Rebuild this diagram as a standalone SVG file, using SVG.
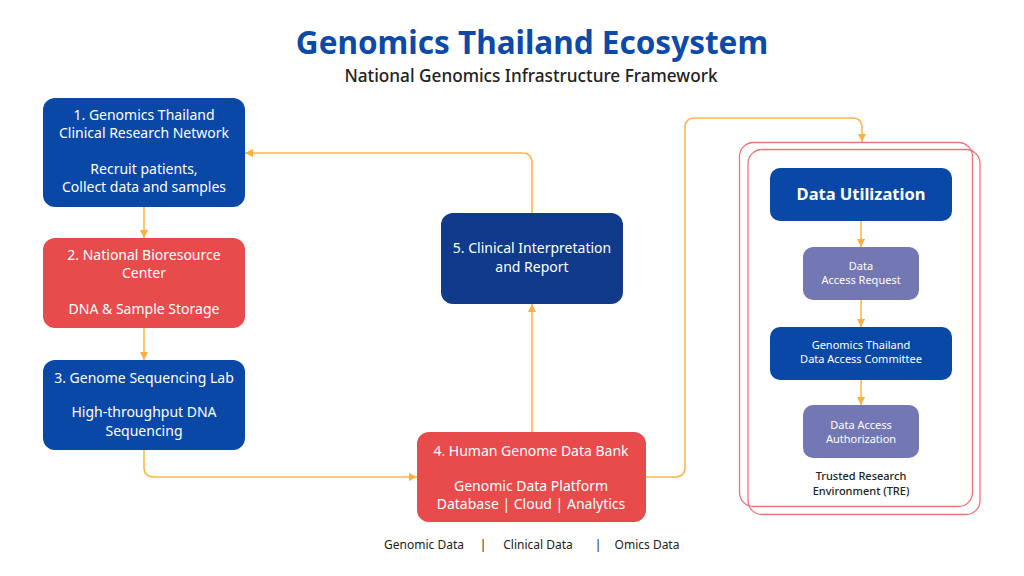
<svg xmlns="http://www.w3.org/2000/svg" width="1024" height="576" viewBox="0 0 1024 576">
<style>
text{font-family:"Noto Sans","Open Sans","Liberation Sans",sans-serif;text-anchor:middle}
.t{fill:#fff;font-size:14px}
.s{fill:#fff;font-size:11px}
.blue{fill:#0a48a8}
.red{fill:#e84b4b}
.navy{fill:#0f3b8a}
.purple{fill:#7377b4}
.c{fill:none;stroke:#fbb84c;stroke-width:1.6}
.tre{fill:none;stroke:#f07474;stroke-width:1.3}
.lbl{fill:#222;font-size:11px;font-weight:500}
</style>
<defs>
<marker id="ah" viewBox="0 0 10 10" refX="10" refY="5" markerWidth="8" markerHeight="8" markerUnits="userSpaceOnUse" orient="auto">
<path d="M0,0 L10,5 L0,10 z" fill="#fbb040"/>
</marker>
</defs>
<rect width="1024" height="576" fill="#fff"/>
<text x="532" y="54" style="font-size:31.5px;font-weight:700;fill:#0b4aa8">Genomics Thailand Ecosystem</text>
<text x="531" y="82" style="font-size:17.2px;font-weight:500;fill:#222">National Genomics Infrastructure Framework</text>

<g id="tre">
<rect class="tre" x="739.5" y="142.5" width="233" height="364" rx="14"/>
<rect class="tre" x="748" y="149.5" width="232" height="365" rx="14"/>
<text class="lbl" x="861" y="480">Trusted Research</text>
<text class="lbl" x="861" y="495">Environment (TRE)</text>
</g>

<g id="connectors">
<path class="c" d="M144,207 V238" marker-end="url(#ah)"/>
<path class="c" d="M144,328 V360" marker-end="url(#ah)"/>
<path class="c" d="M144,450 V467 Q144,477 154,477 H417" marker-end="url(#ah)"/>
<path class="c" d="M532,432 V304" marker-end="url(#ah)"/>
<path class="c" d="M532,213 V163 Q532,153 522,153 H245" marker-end="url(#ah)"/>
<path class="c" d="M646,477 H675 Q685,477 685,467 V128 Q685,118 695,118 H852 Q862,118 862,128 V142" marker-end="url(#ah)"/>
<path class="c" d="M861,221 V247" marker-end="url(#ah)"/>
<path class="c" d="M861,300 V327" marker-end="url(#ah)"/>
<path class="c" d="M861,380 V405" marker-end="url(#ah)"/>
</g>

<g id="n1">
<rect class="blue" x="43" y="98" width="202" height="109" rx="12"/>
<text class="t" x="144" y="120">1. Genomics Thailand</text>
<text class="t" x="144" y="138">Clinical Research Network</text>
<text class="t" x="144" y="174">Recruit patients,</text>
<text class="t" x="144" y="192">Collect data and samples</text>
</g>
<g id="n2">
<rect class="red" x="43" y="238" width="202" height="90" rx="12"/>
<text class="t" x="144" y="260">2. National Bioresource</text>
<text class="t" x="144" y="278">Center</text>
<text class="t" x="144" y="314">DNA &amp; Sample Storage</text>
</g>
<g id="n3">
<rect class="blue" x="43" y="360" width="202" height="90" rx="12"/>
<text class="t" x="144" y="383">3. Genome Sequencing Lab</text>
<text class="t" x="144" y="417">High-throughput DNA</text>
<text class="t" x="144" y="436">Sequencing</text>
</g>
<g id="n4">
<rect class="red" x="417" y="432" width="229" height="90" rx="12"/>
<text class="t" x="531" y="456">4. Human Genome Data Bank</text>
<text class="t" x="531" y="491">Genomic Data Platform</text>
<text class="t" x="531" y="509">Database | Cloud | Analytics</text>
</g>
<g id="n5">
<rect class="navy" x="441" y="213" width="182" height="91" rx="12"/>
<text class="t" x="532" y="253">5. Clinical Interpretation</text>
<text class="t" x="532" y="272">and Report</text>
</g>
<g id="n6">
<rect class="blue" x="770" y="168" width="182" height="53" rx="10"/>
<text x="861" y="200" style="fill:#fff;font-size:16.5px;font-weight:700">Data Utilization</text>
</g>
<g id="n7">
<rect class="purple" x="803" y="247" width="116" height="53" rx="10"/>
<text class="s" x="861" y="270">Data</text>
<text class="s" x="861" y="284">Access Request</text>
</g>
<g id="n8">
<rect class="blue" x="770" y="327" width="182" height="53" rx="10"/>
<text class="s" x="861" y="349">Genomics Thailand</text>
<text class="s" x="861" y="363">Data Access Committee</text>
</g>
<g id="n9">
<rect class="purple" x="803" y="405" width="116" height="53" rx="10"/>
<text class="s" x="861" y="429">Data Access</text>
<text class="s" x="861" y="443">Authorization</text>
</g>
<g id="footer">
<text x="424" y="549" style="font-size:12px;fill:#222">Genomic Data</text>
<text x="483" y="549" style="font-size:12px;fill:#222">|</text>
<text x="538" y="549" style="font-size:12px;fill:#222">Clinical Data</text>
<text x="598" y="549" style="font-size:12px;fill:#222">|</text>
<text x="647" y="549" style="font-size:12px;fill:#222">Omics Data</text>
</g>
</svg>
